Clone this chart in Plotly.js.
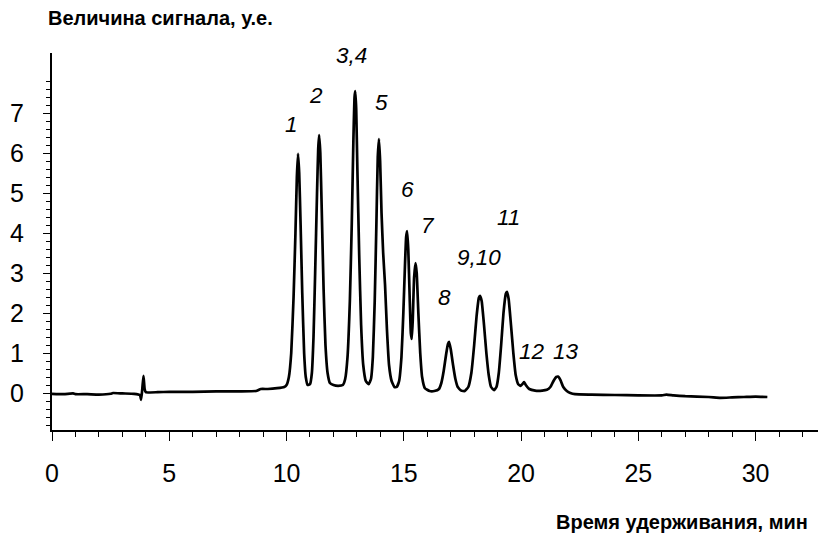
<!DOCTYPE html>
<html><head><meta charset="utf-8">
<script src="https://cdn.plot.ly/plotly-3.0.1.min.js"></script>
<style>html,body{margin:0;padding:0;background:#fff}#chart{width:818px;height:533px}</style>
</head><body><div id="chart"></div>
<script>
// Retention time, min
var timeMin = [0,0.5,0.9,1.0,1.5,2.0,2.5,2.6,3.0,3.5,3.75,3.8,3.85,3.9,3.95,4.0,4.5,5,6,7,8,8.7,8.9,9.2,9.6,9.9,10.0,
10.1,10.2,10.3,10.38,10.44,10.49,10.54,10.6,10.67,10.75,10.82,10.9,11.0,
11.08,11.15,11.22,11.3,11.35,11.39,11.44,11.5,11.58,11.66,11.75,11.85,12.0,12.2,12.4,
12.5,12.6,12.7,12.78,12.85,12.9,12.93,12.97,13.02,13.1,13.18,13.27,13.38,13.5,13.6,
13.68,13.76,13.83,13.89,13.94,13.99,14.05,14.12,14.2,14.28,14.37,14.48,14.6,14.7,
14.8,14.9,14.98,15.05,15.1,15.14,15.19,15.25,15.3,15.34,15.38,15.44,15.5,15.55,15.62,15.7,15.78,15.9,16.1,16.3,16.5,
16.6,16.7,16.8,16.88,16.93,17.0,17.1,17.2,17.3,17.45,17.6,
17.75,17.88,18.0,18.1,18.2,18.25,18.32,18.42,18.52,18.62,18.72,18.85,18.95,
19.05,19.15,19.25,19.35,19.4,19.47,19.57,19.67,19.77,19.88,19.98,
20.08,20.13,20.2,20.35,20.6,20.9,21.1,21.25,21.4,21.5,21.58,21.68,21.8,21.95,22.1,22.3,23,24,25,26,26.2,26.5,27,28,28.5,29,29.5,30,30.5];
// Signal, arbitrary units
var signal = [-0.02,-0.03,-0.01,-0.03,-0.03,-0.04,-0.02,0.0,-0.01,-0.02,-0.05,-0.17,0.1,0.43,0.1,0.02,0.02,0.03,0.03,0.04,0.04,0.05,0.1,0.1,0.12,0.15,0.2,
0.4,1.0,2.4,4.0,5.4,5.98,5.5,4.2,2.5,1.0,0.4,0.2,0.22,
0.5,1.4,3.0,5.0,6.1,6.45,6.0,4.6,2.6,1.2,0.5,0.25,0.2,0.18,0.2,
0.35,0.9,2.3,4.2,6.3,7.4,7.55,7.1,5.6,3.4,1.7,0.7,0.3,0.22,0.35,
0.9,2.3,4.2,5.9,6.35,5.8,4.5,3.5,2.7,1.6,0.7,0.3,0.15,0.15,
0.3,0.9,2.0,3.2,3.9,4.05,3.6,2.4,1.5,1.35,1.8,2.9,3.25,3.0,2.0,1.0,0.4,0.12,0.05,0.05,0.1,
0.25,0.55,0.95,1.22,1.28,1.1,0.7,0.35,0.15,0.06,0.05,
0.15,0.5,1.2,1.9,2.38,2.43,2.3,1.7,1.0,0.45,0.15,0.07,0.15,
0.5,1.2,2.0,2.48,2.53,2.35,1.7,1.0,0.45,0.22,0.18,
0.24,0.27,0.2,0.1,0.06,0.06,0.08,0.15,0.32,0.4,0.41,0.32,0.15,0.05,0.0,-0.03,-0.04,-0.05,-0.06,-0.06,-0.04,-0.06,-0.08,-0.1,-0.12,-0.11,-0.1,-0.09,-0.1];
var xTickVals = [0,5,10,15,20,25,30];
var yTickVals = [0,1,2,3,4,5,6,7];
var peakLabels = ['1','2','3,4','5','6','7','8','9,10','11','12','13'];
var peakLabelX = [10.23,11.26,12.79,14.07,15.14,16.03,16.72,18.21,19.45,20.47,21.9];
var peakLabelY = [6.72,7.45,8.45,7.27,5.1,4.2,2.4,3.38,4.38,1.05,1.05];

var yMinor = [];
for (var v = -8; v <= 39; v++) { if (v % 5 !== 0) yMinor.push(v / 5); }

var FONT = 'Liberation Sans, Arial, sans-serif';
var annotations = peakLabels.map(function (t, i) {
  return {x: peakLabelX[i], y: peakLabelY[i], xref: 'x', yref: 'y', text: t, showarrow: false,
    font: {family: FONT, size: 22.5, color: '#000', style: 'italic'},
    xanchor: 'center', yanchor: 'middle'};
});
annotations.push({xref: 'paper', yref: 'paper', x: -0.0078, y: 1.093, xanchor: 'left', yanchor: 'middle',
  text: '<b>Величина сигнала, у.е.</b>', showarrow: false,
  font: {family: FONT, size: 20, color: '#000'}});
annotations.push({xref: 'paper', yref: 'paper', x: 0.99, y: -0.243, xanchor: 'right', yanchor: 'middle',
  text: '<b>Время удерживания, мин</b>', showarrow: false,
  font: {family: FONT, size: 20, color: '#000'}});

var trace = {x: timeMin, y: signal, type: 'scatter', mode: 'lines',
  line: {color: '#000', width: 2.7, shape: 'spline', smoothing: 0.4}, hoverinfo: 'skip'};

var layout = {
  width: 818, height: 533,
  margin: {l: 52, r: 0, t: 53, b: 103},
  paper_bgcolor: '#fff', plot_bgcolor: '#fff',
  showlegend: false,
  font: {family: FONT, color: '#000'},
  xaxis: {range: [0, 32.66], showgrid: false, zeroline: false, showline: true, linecolor: '#000', linewidth: 2,
    tickmode: 'array', tickvals: xTickVals, ticks: 'outside', ticklen: 9, tickwidth: 1, tickcolor: '#000',
    tickfont: {size: 25, color: '#000'}, ticklabelstandoff: 11,
    minor: {dtick: 1, tick0: 0, ticks: 'outside', ticklen: 5, tickwidth: 1, tickcolor: '#000', showgrid: false}},
  yaxis: {range: [-0.925, 8.5], showgrid: false, zeroline: false, showline: true, linecolor: '#000', linewidth: 2,
    tickmode: 'array', tickvals: yTickVals, ticks: 'outside', ticklen: 7, tickwidth: 1, tickcolor: '#000',
    tickfont: {size: 25, color: '#000'}, ticklabelstandoff: 14,
    minor: {tickmode: 'array', tickvals: yMinor, ticks: 'outside', ticklen: 4, tickwidth: 1, tickcolor: '#000', showgrid: false}},
  annotations: annotations
};
Plotly.newPlot('chart', [trace], layout, {staticPlot: true, displayModeBar: false});
</script></body></html>
